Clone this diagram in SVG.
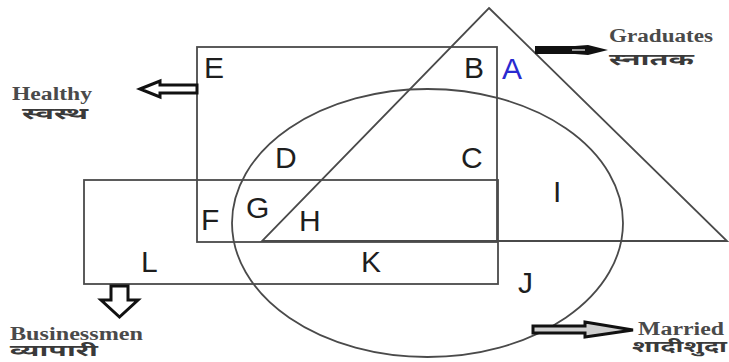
<svg xmlns="http://www.w3.org/2000/svg" width="729" height="362" viewBox="0 0 729 362">
  <style>
    .shape { fill: none; stroke: #4a4a4a; stroke-width: 1.8; }
    .letter { font-family: "Liberation Sans", Arial, sans-serif; font-size: 30px; fill: #1e1e1e; }
    .en { font-family: "Liberation Serif", "Times New Roman", serif; font-weight: bold; font-size: 18px; fill: #4a4a4a; }
    .hi { font-family: "Noto Sans Devanagari", "Noto Sans", "Lohit Devanagari", sans-serif; font-weight: bold; font-size: 16px; fill: #3a3a3a; }
    .hollow { fill: #ffffff; stroke: #111111; stroke-width: 3; stroke-linejoin: miter; }
  </style>
  <rect width="729" height="362" fill="#ffffff"/>

  <g id="healthy">
    <rect class="shape" x="197" y="47" width="300" height="195"/>
  </g>
  <g id="businessmen">
    <rect class="shape" x="84" y="180" width="414" height="104"/>
  </g>
  <g id="graduates">
    <polygon class="shape" points="489,8 727,241 262,241"/>
  </g>
  <g id="married">
    <ellipse class="shape" cx="427.5" cy="223" rx="195.5" ry="134"/>
  </g>

  <g id="region-labels">
    <text class="letter" x="204" y="78">E</text>
    <text class="letter" x="464" y="78">B</text>
    <text class="letter" x="502" y="79" style="fill:#2a2ad0">A</text>
    <text class="letter" x="275" y="168">D</text>
    <text class="letter" x="461" y="168">C</text>
    <text class="letter" x="553" y="202">I</text>
    <text class="letter" x="246" y="218">G</text>
    <text class="letter" x="201" y="230">F</text>
    <text class="letter" x="299" y="231">H</text>
    <text class="letter" x="141" y="272">L</text>
    <text class="letter" x="361" y="272">K</text>
    <text class="letter" x="518" y="293">J</text>
  </g>

  <g id="connectors">
    <polygon class="hollow" points="140,89 160,81 160,85 197,85 197,93 160,93 160,97"/>
    <polygon fill="#111111" points="535,46 575,46 588,45 608,50 588,55 575,54 535,54"/>
    <line x1="572" y1="50" x2="585" y2="50" stroke="#9a9a9a" stroke-width="2"/>
    <polygon class="hollow" points="111,286 128,286 128,300 138,300 119.5,317 101,300 111,300"/>
    <polygon class="hollow" style="fill:#cfcfcf" points="533,326 585,326 585,322 633,330 585,337 585,333 533,333"/>
  </g>

  <g id="legend-healthy">
    <text class="en" x="12" y="100" textLength="80" lengthAdjust="spacingAndGlyphs">Healthy</text>
    <text class="hi" x="22" y="119" textLength="66" lengthAdjust="spacingAndGlyphs">स्वस्थ</text>
  </g>
  <g id="legend-graduates">
    <text class="en" x="609" y="42" textLength="104" lengthAdjust="spacingAndGlyphs">Graduates</text>
    <text class="hi" x="609" y="65" textLength="85" lengthAdjust="spacingAndGlyphs">स्नातक</text>
  </g>
  <g id="legend-businessmen">
    <text class="en" x="10" y="340" textLength="133" lengthAdjust="spacingAndGlyphs">Businessmen</text>
    <text class="hi" x="10" y="356" textLength="88" lengthAdjust="spacingAndGlyphs">व्यापारी</text>
  </g>
  <g id="legend-married">
    <text class="en" x="638" y="335" textLength="86" lengthAdjust="spacingAndGlyphs">Married</text>
    <text class="hi" x="632" y="352" textLength="95" lengthAdjust="spacingAndGlyphs">शादीशुदा</text>
  </g>
</svg>
